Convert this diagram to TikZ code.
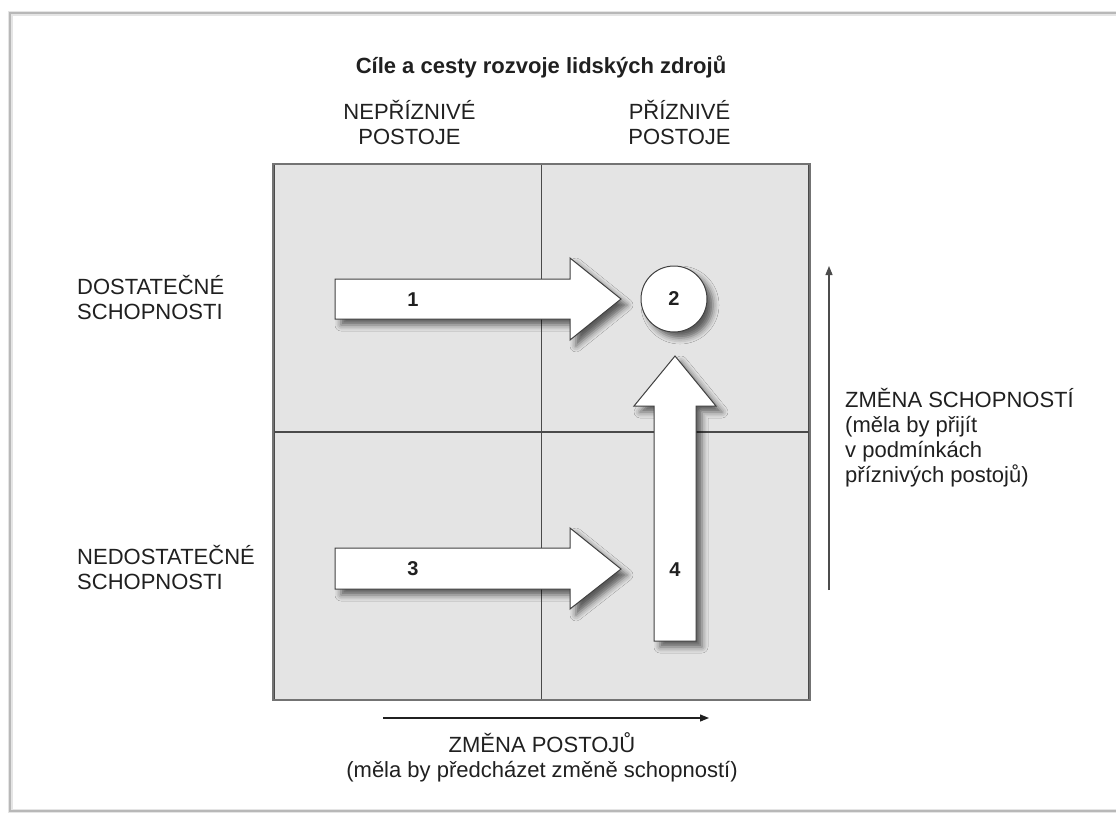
\documentclass[tikz,border=0pt]{standalone}
\usepackage{fontspec}
\setmainfont{Liberation Sans}
\usetikzlibrary{shadows.blur,arrows.meta}
\definecolor{cellgray}{HTML}{E4E4E4}
\definecolor{ink}{HTML}{202020}
\definecolor{gridline}{HTML}{4A4A4A}
\begin{document}
\begin{tikzpicture}[x=1pt,y=-1pt,
  lbl/.style={font=\fontsize{22}{25}\selectfont, text=ink, inner sep=0pt},
  num/.style={font=\fontsize{20}{24}\selectfont\bfseries, text=ink, inner sep=0pt},
  cell/.style={draw=gridline, line width=1.3pt, fill=cellgray,
    minimum width=267.5pt, minimum height=267.5pt, inner sep=0pt},
  softshadow/.style={blur shadow={shadow xshift=6pt, shadow yshift=-6pt,
    shadow blur radius=6pt, shadow opacity=60}},
  bigarrow/.style={draw=black!75, line width=1pt, fill=white, line join=miter, softshadow},
  axis/.style={line width=1.2pt, -{Triangle[length=9pt,width=7pt]}}
]
\useasboundingbox (0,0) rectangle (1116,812);
\fill[white] (0,0) rectangle (1116,812);
% page frame
\draw[black!10, line width=5pt] (10,13) rectangle (1200,811);
\draw[black!28, line width=1.2pt] (10,13) rectangle (1200,811);

% title and column headings (anchor base = baseline of the last line)
\node[lbl, font=\fontsize{22}{25}\selectfont\bfseries, anchor=base] (title) at (541,73)
  {Cíle a cesty rozvoje lidských zdrojů};
\node[lbl, align=center, anchor=base] (colA) at (409.5,144.5) {NEPŘÍZNIVÉ\\POSTOJE};
\node[lbl, align=center, anchor=base] (colB) at (679.5,144.5) {PŘÍZNIVÉ\\POSTOJE};

% row headings
\node[lbl, align=left, anchor=base west] (rowA) at (77,319) {DOSTATEČNÉ\\SCHOPNOSTI};
\node[lbl, align=left, anchor=base west] (rowB) at (77,589) {NEDOSTATEČNÉ\\SCHOPNOSTI};

% the four quadrants
\node[cell] (c11) at (407.75,298.25) {};
\node[cell] (c12) at (675.25,298.25) {};
\node[cell] (c21) at (407.75,565.75) {};
\node[cell] (c22) at (675.25,565.75) {};
\draw[black!55, line width=2.2pt] (c11.north west) rectangle (c22.south east);

% paths of development
\draw[bigarrow] (335,279) -- (570,279) -- (570,258) -- (621,299) -- (570,340)
  -- (570,319) -- (335,319) -- cycle;
\draw[bigarrow] (335,548) -- (570,548) -- (570,528) -- (621,569) -- (570,609)
  -- (570,589) -- (335,589) -- cycle;
\draw[bigarrow] (654,641) -- (654,406) -- (634,406) -- (675,356) -- (716,406)
  -- (696,406) -- (696,641) -- cycle;
\node[circle, draw=black!75, line width=1pt, fill=white, minimum size=66pt,
  softshadow, num] (goal) at (674,299) {2};
\node[num] (n1) at (413,300) {1};
\node[num] (n3) at (413,569) {3};
\node[num] (n4) at (675,570) {4};

% axes
\coordinate (ps) at (383,718);
\coordinate (pe) at (709,718);
\draw[axis, ink] (ps) -- (pe);
\coordinate (ss) at (829,590);
\coordinate (se) at (829,266);
\draw[axis, black!70] (ss) -- (se);

\node[lbl, align=center, anchor=base] (xlab) at (542,777)
  {ZMĚNA POSTOJŮ\\(měla by předcházet změně schopností)};
\node[lbl, align=left, anchor=base west] (ylab) at (845,482)
  {ZMĚNA SCHOPNOSTÍ\\(měla by přijít\\v podmínkách\\příznivých postojů)};
\end{tikzpicture}
\end{document}
